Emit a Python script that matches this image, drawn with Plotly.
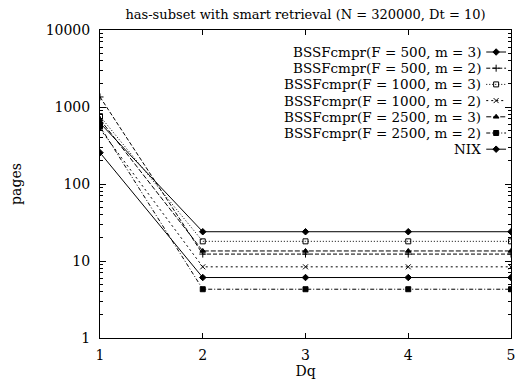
import plotly.graph_objects as go

dq = [1, 2, 3, 4, 5]
series_names = [
    "BSSFcmpr(F = 500, m = 3)",
    "BSSFcmpr(F = 500, m = 2)",
    "BSSFcmpr(F = 1000, m = 3)",
    "BSSFcmpr(F = 1000, m = 2)",
    "BSSFcmpr(F = 2500, m = 3)",
    "BSSFcmpr(F = 2500, m = 2)",
    "NIX",
]
f500_m3 = [620, 24, 24, 24, 24]
f500_m2 = [1350, 12.3, 12.3, 12.3, 12.3]
f1000_m3 = [760, 18, 18, 18, 18]
f1000_m2 = [520, 8.4, 8.4, 8.4, 8.4]
f2500_m3 = [690, 13.5, 13.5, 13.5, 13.5]
f2500_m2 = [560, 4.3, 4.3, 4.3, 4.3]
nix = [255, 6.1, 6.1, 6.1, 6.1]
series_values = [f500_m3, f500_m2, f1000_m3, f1000_m2, f2500_m3, f2500_m2, nix]

dashes = ["solid", "4px,2px", "1px,2px", "2px,3px", "5px,2px", "4px,2px,1px,2px", "solid"]
symbols = ["diamond", "cross-thin", "square-open", "x-thin", "triangle-up", "square", "diamond"]

y_tickvals = [1, 10, 100, 1000, 10000]
y_ticktext = ["1", "10", "100", "1000", "10000"]
y_minor = [m * 10 ** k for k in range(4) for m in range(2, 10)]
x_tickvals = [1, 2, 3, 4, 5]

font = "DejaVu Serif"

# plot area in pixels (for legend placement)
W, H = 517, 382
L, R, T, B = 100, 2, 30, 44
pw, ph = W - L - R, H - T - B

fig = go.Figure()
for name, vals, d, s in zip(series_names, series_values, dashes, symbols):
    fig.add_trace(go.Scatter(
        x=dq, y=vals, name=name, mode="lines+markers", showlegend=False,
        line=dict(color="black", width=1, dash=d),
        marker=dict(symbol=s, size=5, color="black",
                    line=dict(color="black", width=1)),
    ))

# manual legend: right-aligned text with key samples to the right
annotations = []
for i, (name, d, s) in enumerate(zip(series_names, dashes, symbols)):
    ypx = 52 + 16.2 * i
    yp = 1 - (ypx - T) / ph
    x_text = (486 - L) / pw
    x0, x1 = (490 - L) / pw, (510 - L) / pw
    annotations.append(dict(
        text=name, x=x_text, y=yp, xref="paper", yref="paper",
        xanchor="right", yanchor="middle", showarrow=False, borderpad=0,
        font=dict(family=font, size=13.5, color="black"),
    ))
    fig.add_trace(go.Scatter(
        x=[x0, x1], y=[yp, yp], xaxis="x2", yaxis="y2", mode="lines",
        line=dict(color="black", width=1, dash=d), showlegend=False,
        hoverinfo="skip",
    ))
    fig.add_trace(go.Scatter(
        x=[(x0 + x1) / 2], y=[yp], xaxis="x2", yaxis="y2", mode="markers",
        marker=dict(symbol=s, size=5, color="black",
                    line=dict(color="black", width=1)),
        showlegend=False, hoverinfo="skip",
    ))

fig.update_layout(
    width=W, height=H,
    margin=dict(l=L, r=R, t=T, b=B),
    paper_bgcolor="white", plot_bgcolor="white",
    font=dict(family=font, size=13, color="black"),
    title=dict(text="has-subset with smart retrieval (N = 320000, Dt = 10)",
               x=0.5, xref="paper", xanchor="center",
               y=1 - 14 / H, yref="container", yanchor="middle",
               font=dict(family=font, size=13, color="black")),
    annotations=annotations,
    showlegend=False,
    xaxis2=dict(overlaying="x", range=[0, 1], visible=False),
    yaxis2=dict(overlaying="y", range=[0, 1], visible=False),
)
fig.layout.xaxis.update(
    range=[1, 5], tickvals=x_tickvals, ticks="inside", ticklen=5,
    tickcolor="black", ticklabelstandoff=4,
    showline=True, linecolor="black", linewidth=1, mirror="allticks",
    showgrid=False, zeroline=False, ticklabeloverflow="allow",
    tickfont=dict(family=font, size=14),
    title=dict(text="Dq", font=dict(family=font, size=14), standoff=1),
)
fig.layout.yaxis.update(
    type="log", range=[0, 4], tickvals=y_tickvals, ticktext=y_ticktext,
    ticks="inside", ticklen=6, tickcolor="black", ticklabelstandoff=6,
    minor=dict(ticks="inside", ticklen=3, tickcolor="black",
               tickvals=y_minor, showgrid=False),
    showline=True, linecolor="black", linewidth=1, mirror="allticks",
    showgrid=False, zeroline=False,
    tickfont=dict(family=font, size=14),
    title=dict(text="pages", font=dict(family=font, size=14), standoff=20),
)
fig.write_html("out.html")
